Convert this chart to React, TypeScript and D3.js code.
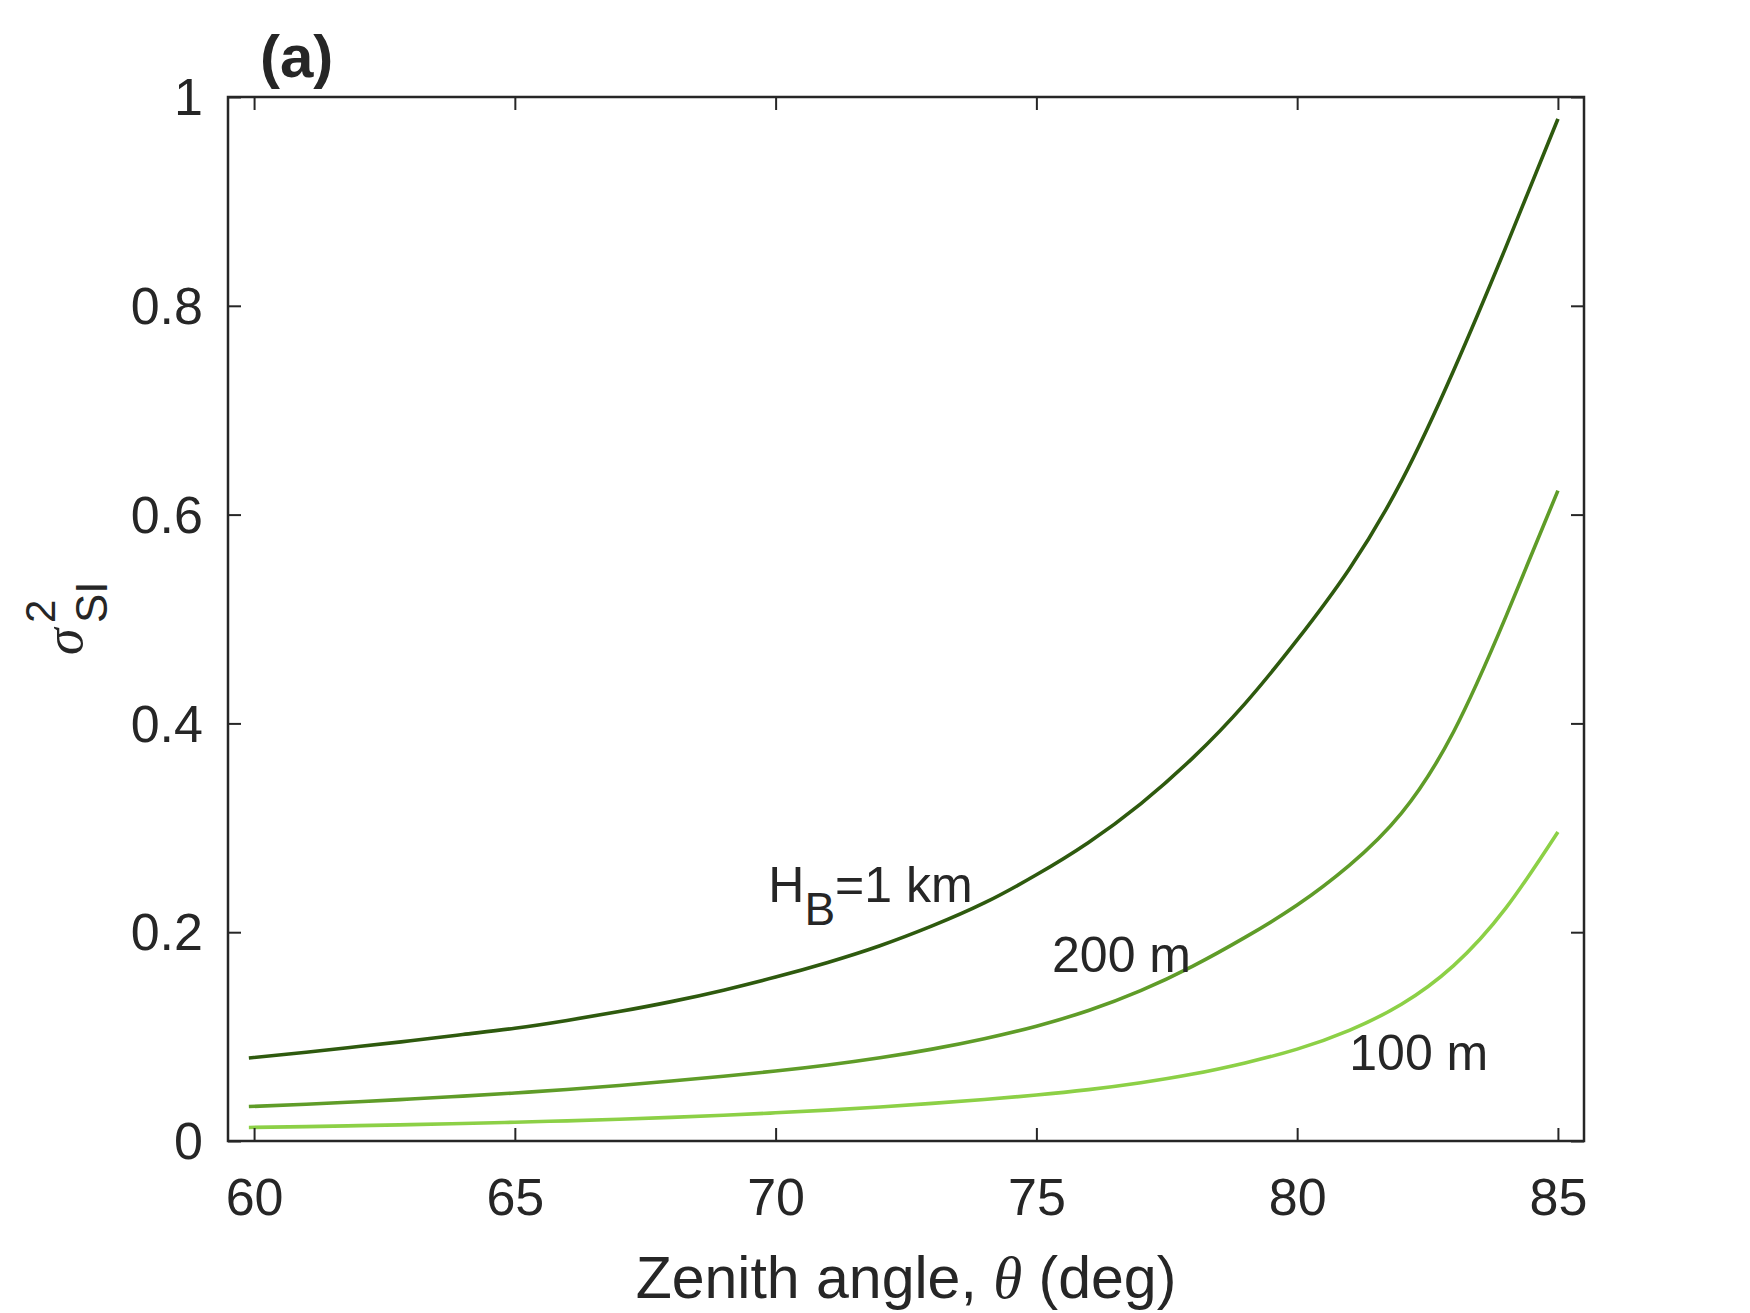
import React, { useEffect, useRef } from 'react'
import * as d3 from 'd3'

// zenith angle (deg) and scintillation index for each boundary-layer height
const angles = [59.9, 61, 62, 63, 64, 65, 66, 67, 68, 69, 70, 71, 72, 73, 74, 75, 76, 77, 78, 79, 80, 81, 82, 83, 84, 85]
const hb1km = [0.0795, 0.085, 0.0905, 0.096, 0.102, 0.108, 0.1155, 0.124, 0.1335, 0.1445, 0.157, 0.171, 0.187, 0.206, 0.228, 0.255, 0.286, 0.323, 0.367, 0.419, 0.480, 0.548, 0.632, 0.738, 0.856, 0.979]
const hb200m = [0.033, 0.0352, 0.0376, 0.0402, 0.043, 0.046, 0.0494, 0.0532, 0.0574, 0.062, 0.067, 0.0728, 0.0797, 0.088, 0.098, 0.110, 0.125, 0.144, 0.1675, 0.195, 0.226, 0.264, 0.314, 0.392, 0.502, 0.623]
const hb100m = [0.013, 0.0138, 0.0147, 0.0157, 0.0168, 0.018, 0.0193, 0.0208, 0.0226, 0.0246, 0.027, 0.0296, 0.0326, 0.036, 0.0397, 0.044, 0.0492, 0.0558, 0.0641, 0.0748, 0.088, 0.106, 0.131, 0.168, 0.223, 0.296]

const xTicks = [60, 65, 70, 75, 80, 85]
const yTicks = [0, 0.2, 0.4, 0.6, 0.8, 1]
const yTickLabels = ['0', '0.2', '0.4', '0.6', '0.8', '1']

const W = 1750, H = 1313
const margin = { top: 97, right: 166, bottom: 172, left: 228 }
const ink = '#262626'
const sans = '"Liberation Sans", Arial, Helvetica, sans-serif'
const serif = '"Liberation Serif", "Times New Roman", serif'

export default function App() {
    const ref = useRef<SVGSVGElement>(null)

    useEffect(() => {
        const svg = d3.select(ref.current)
        svg.selectAll('*').remove()

        const iw = W - margin.left - margin.right
        const ih = H - margin.top - margin.bottom

        const x = d3.scaleLinear().domain([59.5, 85.5]).range([0, iw])
        const y = d3.scaleLinear().domain([0, 1]).range([ih, 0])

        const main = svg.append('g')
            .attr('transform', 'translate(' + margin.left + ',' + margin.top + ')')

        // curves
        const series = [
            { vals: hb1km, color: '#2e5a0e' },
            { vals: hb200m, color: '#5f9c28' },
            { vals: hb100m, color: '#8cd046' },
        ]
        const line = d3.line<number>()
            .x((_, i) => x(angles[i]))
            .y(d => y(d))
            .curve(d3.curveNatural)
        series.forEach(s => {
            main.append('path')
                .attr('d', line(s.vals))
                .attr('fill', 'none')
                .attr('stroke', s.color)
                .attr('stroke-width', 3.6)
        })

        // axes, ticks pointing inward
        const tick = 13
        const bottom = main.append('g')
            .attr('transform', 'translate(0,' + ih + ')')
            .call(d3.axisBottom(x).tickValues(xTicks).tickSize(-tick).tickSizeOuter(0).tickPadding(37))
        const left = main.append('g')
            .call(d3.axisLeft(y).tickValues(yTicks).tickSize(-tick).tickSizeOuter(0).tickPadding(25)
                .tickFormat((_, i) => yTickLabels[i]))
        main.append('g')
            .call(d3.axisTop(x).tickValues(xTicks).tickSize(-tick).tickSizeOuter(0).tickFormat(() => ''))
        main.append('g')
            .attr('transform', 'translate(' + iw + ',0)')
            .call(d3.axisRight(y).tickValues(yTicks).tickSize(-tick).tickSizeOuter(0).tickFormat(() => ''))

        main.selectAll('.domain').remove()
        main.selectAll('.tick line').attr('stroke', ink).attr('stroke-width', 2)
        main.selectAll('.tick text')
            .attr('fill', ink)
            .style('font-family', sans)
            .style('font-size', '52px')
        bottom.selectAll('.tick text').attr('dy', '0.71em')
        left.selectAll('.tick text').attr('dy', '0.34em')

        main.append('rect')
            .attr('width', iw).attr('height', ih)
            .attr('fill', 'none')
            .attr('stroke', ink)
            .attr('stroke-width', 2.5)

        // curve labels
        const hb = main.append('text')
            .attr('x', x(69.86)).attr('y', y(0.229))
            .attr('fill', ink)
            .style('font-family', sans).style('font-size', '50px')
        hb.append('tspan').text('H')
        hb.append('tspan').attr('dy', 23).style('font-size', '46px').text('B')
        hb.append('tspan').attr('dy', -23).text('=1 km')

        main.append('text')
            .attr('x', x(75.3)).attr('y', y(0.162))
            .attr('fill', ink)
            .style('font-family', sans).style('font-size', '50px')
            .text('200 m')
        main.append('text')
            .attr('x', x(81.0)).attr('y', y(0.068))
            .attr('fill', ink)
            .style('font-family', sans).style('font-size', '50px')
            .text('100 m')

        // x label
        const xl = svg.append('text')
            .attr('x', margin.left + iw / 2).attr('y', 1298)
            .attr('text-anchor', 'middle')
            .attr('fill', ink)
            .style('font-family', sans).style('font-size', '59px')
        xl.append('tspan').text('Zenith angle, ')
        xl.append('tspan').style('font-family', serif).style('font-style', 'italic').text('θ')
        xl.append('tspan').text(' (deg)')

        // y label
        const yl = svg.append('g').attr('transform', 'translate(82,655) rotate(-90)')
        yl.append('text').attr('x', 0).attr('y', 0)
            .attr('fill', ink)
            .style('font-family', serif).style('font-style', 'italic').style('font-size', '54px')
            .text('σ')
        yl.append('text').attr('x', 32).attr('y', -27)
            .attr('fill', ink)
            .style('font-family', sans).style('font-size', '42px')
            .text('2')
        yl.append('text').attr('x', 32).attr('y', 25)
            .attr('fill', ink)
            .style('font-family', sans).style('font-size', '44px')
            .text('SI')

        // panel tag
        svg.append('text')
            .attr('x', 260).attr('y', 77)
            .attr('fill', ink)
            .style('font-family', sans).style('font-size', '60px').style('font-weight', 'bold')
            .text('(a)')
    }, [])

    return (
        <div style={{ position: 'absolute', left: 0, top: 0 }}>
            <svg ref={ref} width={W} height={H} style={{ display: 'block', background: '#fff' }} />
        </div>
    )
}
